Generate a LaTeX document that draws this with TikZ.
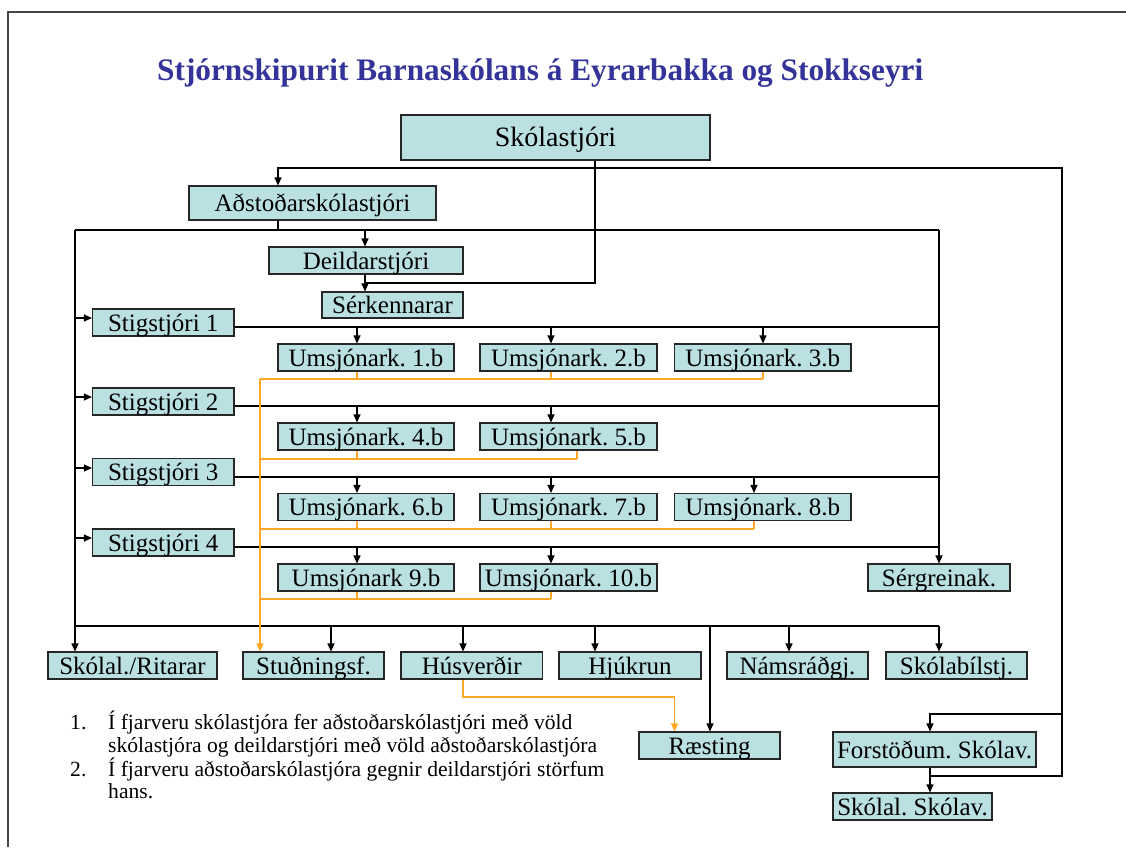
\documentclass[tikz,border=0pt]{standalone}
\usepackage{fontspec}
\setmainfont{Liberation Serif}
\usetikzlibrary{arrows.meta}
\definecolor{boxfill}{RGB}{186,224,226}
\definecolor{titleblue}{RGB}{51,51,153}
\definecolor{orgline}{RGB}{255,168,40}
\definecolor{frameline}{RGB}{70,70,70}
\frenchspacing
\begin{document}
\frenchspacing
\begin{tikzpicture}[x=1pt,y=-1pt,
  box/.style={draw=black!85,line width=1.1pt,fill=boxfill,inner sep=0pt,
    text height=19pt,text depth=2pt,font=\frenchspacing\fontsize{25}{28}\selectfont},
  conn/.style={draw=black,line width=1.1pt},
  arr/.style={conn,-{Triangle[length=8pt,width=7pt]}},
  oconn/.style={draw=orgline,line width=1.2pt},
  oarr/.style={oconn,-{Triangle[length=8pt,width=7pt]}},
  note/.style={anchor=base west,inner sep=0pt,font=\frenchspacing\fontsize{21.6}{23}\selectfont},
]
\useasboundingbox (0,0) rectangle (1126,847);
\draw[frameline,line width=1.5pt] (8,847) -- (8,12) -- (1126,12);

\node[anchor=base west,inner sep=0pt,text=titleblue,font=\bfseries\fontsize{31.3}{36}\selectfont] (title) at (157,80) {Stjórnskipurit Barnaskólans á Eyrarbakka og Stokkseyri};

% boxes
\node[box,minimum width=309pt,minimum height=45pt,text height=20pt,font=\fontsize{28}{32}\selectfont] (sk) at (555.5,137.5) {Skólastjóri};
\node[box,minimum width=247pt,minimum height=34pt] (adst) at (312.5,203) {Aðstoðarskólastjóri};
\node[box,minimum width=194pt,minimum height=27pt] (deild) at (366,260.5) {Deildarstjóri};
\node[box,minimum width=141pt,minimum height=26pt] (serk) at (392.5,305) {Sérkennarar};
\node[box,minimum width=141.5pt,minimum height=27pt] (st1) at (163.25,322.5) {Stigstjóri 1};
\node[box,minimum width=141.5pt,minimum height=27pt] (st2) at (163.25,401.5) {Stigstjóri 2};
\node[box,minimum width=141.5pt,minimum height=27pt] (st3) at (163.25,472) {Stigstjóri 3};
\node[box,minimum width=141.5pt,minimum height=27pt] (st4) at (163.25,542.5) {Stigstjóri 4};
\node[box,minimum width=176pt,minimum height=27pt] (u1) at (366,357.5) {Umsjónark. 1.b};
\node[box,minimum width=177pt,minimum height=27pt] (u2) at (568.5,357.5) {Umsjónark. 2.b};
\node[box,minimum width=176.5pt,minimum height=27pt] (u3) at (762.75,357.5) {Umsjónark. 3.b};
\node[box,minimum width=176pt,minimum height=27pt] (u4) at (366,436.5) {Umsjónark. 4.b};
\node[box,minimum width=177pt,minimum height=27pt] (u5) at (568.5,436.5) {Umsjónark. 5.b};
\node[box,minimum width=176pt,minimum height=27pt] (u6) at (366,507) {Umsjónark. 6.b};
\node[box,minimum width=177pt,minimum height=27pt] (u7) at (568.5,507) {Umsjónark. 7.b};
\node[box,minimum width=176.5pt,minimum height=27pt] (u8) at (762.75,507) {Umsjónark. 8.b};
\node[box,minimum width=176pt,minimum height=27pt] (u9) at (366,577.5) {Umsjónark 9.b};
\node[box,minimum width=177pt,minimum height=27pt] (u10) at (568.5,577.5) {Umsjónark. 10.b};
\node[box,minimum width=142pt,minimum height=27pt] (serg) at (939,577.5) {Sérgreinak.};
\node[box,minimum width=169pt,minimum height=27pt] (skr) at (132.5,665.5) {Skólal./Ritarar};
\node[box,minimum width=141pt,minimum height=27pt] (stud) at (313.5,665.5) {Stuðningsf.};
\node[box,minimum width=141.5pt,minimum height=27pt] (hus) at (471.75,665.5) {Húsverðir};
\node[box,minimum width=142pt,minimum height=27pt] (hjuk) at (630,665.5) {Hjúkrun};
\node[box,minimum width=141pt,minimum height=27pt] (nams) at (797.5,665.5) {Námsráðgj.};
\node[box,minimum width=141pt,minimum height=27pt] (bil) at (956.5,665.5) {Skólabílstj.};
\node[box,minimum width=141pt,minimum height=27pt] (raest) at (709.5,745.5) {Ræsting};
\node[box,minimum width=203pt,minimum height=35pt] (forst) at (934.5,749.5) {Forstöðum. Skólav.};
\node[box,minimum width=159pt,minimum height=27pt] (skolav) at (912.5,806.5) {Skólal. Skólav.};

% notes
\node[note] (n1) at (70,729) {1.};
\node[note] (t1a) at (108,729) {Í fjarveru skólastjóra fer aðstoðarskólastjóri með völd};
\node[note] (t1b) at (108,752) {skólastjóra og deildarstjóri með völd aðstoðarskólastjóra};
\node[note] (n2) at (70,776) {2.};
\node[note] (t2a) at (108,776) {Í fjarveru aðstoðarskólastjóra gegnir deildarstjóri störfum};
\node[note] (t2b) at (108,798) {hans.};

% junction coordinates
\coordinate (jS) at (595,168);
\coordinate (jSd) at (595,283);
\coordinate (jSm) at (365,283);
\coordinate (jSL) at (278,168);
\coordinate (jSR) at (1062,168);
\coordinate (jF1) at (1062,714);
\coordinate (jF2) at (930,714);
\coordinate (jF3) at (1062,776);
\coordinate (jF4) at (930,776);
\coordinate (jA) at (278,230);
\coordinate (jAL) at (75,230);
\coordinate (jAR) at (939,230);
\coordinate (jAD) at (365,230);
\coordinate (a1) at (75,318);
\coordinate (a2) at (75,397);
\coordinate (a3) at (75,468);
\coordinate (a4) at (75,538);
\coordinate (h1) at (939,327);
\coordinate (h2) at (939,406);
\coordinate (h3) at (939,477);
\coordinate (h4) at (939,547);
\coordinate (d11) at (357,327);
\coordinate (d12) at (551,327);
\coordinate (d13) at (763,327);
\coordinate (d21) at (357,406);
\coordinate (d22) at (551,406);
\coordinate (d31) at (357,477);
\coordinate (d32) at (551,477);
\coordinate (d33) at (754,477);
\coordinate (d41) at (357,547);
\coordinate (d42) at (551,547);
\coordinate (bL) at (75,626);
\coordinate (bR) at (939,626);
\coordinate (b1) at (331,626);
\coordinate (b2) at (463,626);
\coordinate (b3) at (595,626);
\coordinate (b4) at (710,626);
\coordinate (b5) at (789,626);
% orange
\coordinate (o1L) at (260,379);
\coordinate (o11) at (357,379);
\coordinate (o12) at (551,379);
\coordinate (o13) at (763,379);
\coordinate (o2L) at (260,459);
\coordinate (o21) at (357,459);
\coordinate (o22) at (577,459);
\coordinate (o3L) at (260,529);
\coordinate (o31) at (357,529);
\coordinate (o32) at (551,529);
\coordinate (o33) at (754,529);
\coordinate (o4L) at (260,599);
\coordinate (o41) at (357,599);
\coordinate (o42) at (551,599);
\coordinate (oH1) at (463,697);
\coordinate (oH2) at (674.5,697);

% Skólastjóri connectors
\draw[conn] (sk.south -| jS) -- (jSd) -- (jSm);
\draw[arr] (jS) -- (jSL) -- (adst.north -| jSL);
\draw[conn] (jS) -- (jSR) -- (jF1);
\draw[arr] (jF1) -- (jF2) -- (forst.north -| jF2);
\draw[conn] (jF1) -- (jF3) -- (jF4);
\draw[arr] (forst.south -| jF4) -- (skolav.north -| jF4);

% Aðstoðarskólastjóri connectors
\draw[conn] (adst.south -| jA) -- (jA);
\draw[conn] (jAL) -- (jAR);
\draw[arr] (jAD) -- (deild.north -| jAD);
\draw[arr] (deild.south -| jAD) -- (serk.north -| jAD);
\draw[arr] (jAR) -- (serg.north -| jAR);
\draw[arr] (jAL) -- (skr.north -| jAL);
\draw[arr] (a1) -- (a1 -| st1.west);
\draw[arr] (a2) -- (a2 -| st2.west);
\draw[arr] (a3) -- (a3 -| st3.west);
\draw[arr] (a4) -- (a4 -| st4.west);

% Stigstjórar
\draw[conn] (h1 -| st1.east) -- (h1);
\draw[conn] (h2 -| st2.east) -- (h2);
\draw[conn] (h3 -| st3.east) -- (h3);
\draw[conn] (h4 -| st4.east) -- (h4);
\draw[arr] (d11) -- (d11 |- u1.north);
\draw[arr] (d12) -- (d12 |- u2.north);
\draw[arr] (d13) -- (d13 |- u3.north);
\draw[arr] (d21) -- (d21 |- u4.north);
\draw[arr] (d22) -- (d22 |- u5.north);
\draw[arr] (d31) -- (d31 |- u6.north);
\draw[arr] (d32) -- (d32 |- u7.north);
\draw[arr] (d33) -- (d33 |- u8.north);
\draw[arr] (d41) -- (d41 |- u9.north);
\draw[arr] (d42) -- (d42 |- u10.north);

% bottom row
\draw[conn] (bL) -- (bR);
\draw[arr] (b1) -- (b1 |- stud.north);
\draw[arr] (b2) -- (b2 |- hus.north);
\draw[arr] (b3) -- (b3 |- hjuk.north);
\draw[arr] (b4) -- (b4 |- raest.north);
\draw[arr] (b5) -- (b5 |- nams.north);
\draw[arr] (bR) -- (bR |- bil.north);

% orange connectors
\draw[oconn] (u1.south -| o11) -- (o11);
\draw[oconn] (u2.south -| o12) -- (o12);
\draw[oconn] (u3.south -| o13) -- (o13);
\draw[oconn] (o1L) -- (o13);
\draw[oconn] (u4.south -| o21) -- (o21);
\draw[oconn] (u5.south -| o22) -- (o22);
\draw[oconn] (o2L) -- (o22);
\draw[oconn] (u6.south -| o31) -- (o31);
\draw[oconn] (u7.south -| o32) -- (o32);
\draw[oconn] (u8.south -| o33) -- (o33);
\draw[oconn] (o3L) -- (o33);
\draw[oconn] (u9.south -| o41) -- (o41);
\draw[oconn] (u10.south -| o42) -- (o42);
\draw[oconn] (o4L) -- (o42);
\draw[oarr] (o1L) -- (stud.north -| o1L);
\draw[oarr] (hus.south -| oH1) -- (oH1) -- (oH2) -- (raest.north -| oH2);
\end{tikzpicture}
\end{document}
